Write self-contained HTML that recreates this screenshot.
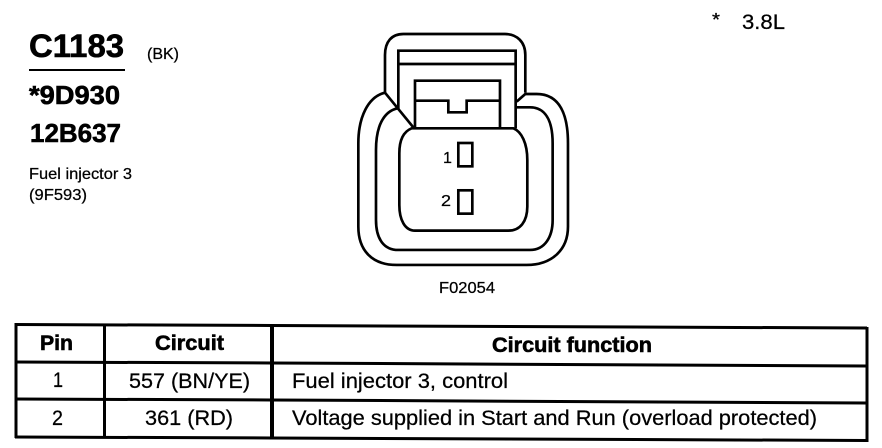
<!DOCTYPE html>
<html><head><meta charset="utf-8"><style>
html,body{margin:0;padding:0;background:#fff}
svg{display:block}
text{font-family:"Liberation Sans",sans-serif;fill:#000;stroke:#000;stroke-width:.25}
.b{font-weight:bold;stroke-width:.6}
</style></head><body>
<svg width="882" height="448" viewBox="0 0 882 448" xmlns="http://www.w3.org/2000/svg">
<text x="29" y="57" class="b" font-size="32" textLength="95" lengthAdjust="spacingAndGlyphs">C1183</text>
<text x="147" y="59" font-size="16" textLength="32" lengthAdjust="spacingAndGlyphs">(BK)</text>
<rect x="29" y="69" width="96" height="2" fill="#000"/>
<text x="29" y="104" class="b" font-size="26" textLength="91" lengthAdjust="spacingAndGlyphs">*9D930</text>
<text x="30" y="142" class="b" font-size="26" textLength="91" lengthAdjust="spacingAndGlyphs">12B637</text>
<text x="29" y="179" font-size="16" textLength="103" lengthAdjust="spacingAndGlyphs">Fuel injector 3</text>
<text x="29" y="200" font-size="16" textLength="58" lengthAdjust="spacingAndGlyphs">(9F593)</text>
<text x="712" y="26" font-size="18" textLength="8" lengthAdjust="spacingAndGlyphs">*</text>
<text x="742" y="29" font-size="21.500" textLength="43" lengthAdjust="spacingAndGlyphs">3.8L</text>

<g transform="translate(340,20) scale(0.3333)" fill="none" stroke="#000" stroke-width="8">
<path d="M135 218V105C135 65 155 42 190 42H495C530 42 556 65 556 105V218"/>
<path d="M135 218C85 230 55 290 55 370V620C55 690 95 735 170 735H560C635 735 684 690 684 620V370C684 285 660 222 590 222H556L530 245"/>
<path d="M135 218L220 322"/>
<path d="M172 265C130 275 108 320 108 390V600C108 655 130 690 175 690H570C615 690 638 650 638 600V370C638 300 615 262 570 262H530"/>
<path d="M175 268V92H527V325"/>
<path d="M175 132H527"/>
<path d="M225 322V182H480V322"/>
<path d="M228 242H325V277H380V242H480"/>
<path d="M215 325H520C545 335 562 370 562 420V560C562 605 540 632 505 632H225C195 632 178 600 178 555V400C178 360 190 335 215 325Z"/>
<rect x="355" y="369" width="42" height="70"/>
<rect x="355" y="511" width="42" height="70"/>
</g>
<text x="443" y="163" font-size="16">1</text>
<text x="441" y="206" font-size="16" textLength="10" lengthAdjust="spacingAndGlyphs">2</text>
<text x="439" y="293" font-size="16" textLength="56" lengthAdjust="spacingAndGlyphs">F02054</text>

<g stroke="#000" stroke-width="3" fill="none">
<path d="M15 324.5L272 325.5L867 328"/>
<path d="M15 362L272 363L867 366"/>
<path d="M15 399L272 400L867 403"/>
<path d="M15 437L272 438L867 440.5"/>
<path d="M16 323V438"/>
<path d="M104.500 324V438"/>
<path d="M272 324V439" stroke-width="4"/>
<path d="M867 327V442"/>
</g>
<text x="40" y="350" class="b" font-size="21.500" textLength="33" lengthAdjust="spacingAndGlyphs">Pin</text>
<text x="155" y="350" class="b" font-size="21.500" textLength="69" lengthAdjust="spacingAndGlyphs">Circuit</text>
<text x="492" y="352" class="b" font-size="21.500" textLength="160" lengthAdjust="spacingAndGlyphs">Circuit function</text>
<text x="53" y="387" font-size="21.500" textLength="10" lengthAdjust="spacingAndGlyphs">1</text>
<text x="129" y="388" font-size="21.500" textLength="121" lengthAdjust="spacingAndGlyphs">557 (BN/YE)</text>
<text x="292" y="388" font-size="21.500" textLength="216" lengthAdjust="spacingAndGlyphs">Fuel injector 3, control</text>
<text x="52" y="425" font-size="21.500" textLength="11" lengthAdjust="spacingAndGlyphs">2</text>
<text x="145" y="425" font-size="21.500" textLength="88" lengthAdjust="spacingAndGlyphs">361 (RD)</text>
<text x="292" y="425" font-size="21.500" textLength="525" lengthAdjust="spacingAndGlyphs">Voltage supplied in Start and Run (overload protected)</text>
</svg>
</body></html>
